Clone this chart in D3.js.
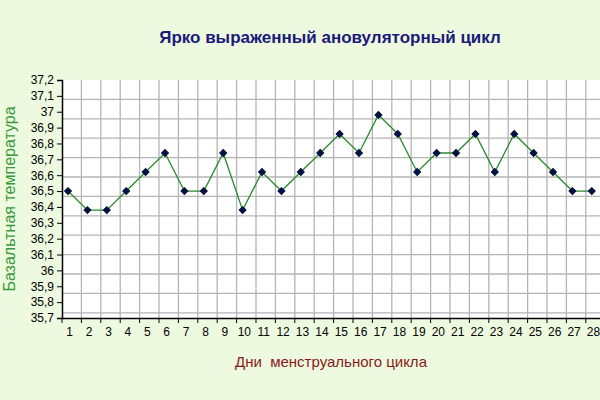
<!DOCTYPE html>
<html>
<head>
<meta charset="utf-8">
<script src="https://cdn.jsdelivr.net/npm/d3@7"></script>
<style>
  body { margin: 0; background: #eefadf; }
  text { font-family: Arial, "Liberation Sans", sans-serif; }
</style>
</head>
<body>
<div id="chart"></div>
<script>
const days = d3.range(1, 29);
const temps = [36.5, 36.38, 36.38, 36.5, 36.62, 36.74, 36.5, 36.5, 36.74, 36.38,
  36.62, 36.5, 36.62, 36.74, 36.86, 36.74, 36.98, 36.86, 36.62, 36.74,
  36.74, 36.86, 36.62, 36.86, 36.74, 36.62, 36.5, 36.5];
const yTicks = [35.7, 35.8, 35.9, 36, 36.1, 36.2, 36.3, 36.4, 36.5, 36.6, 36.7, 36.8, 36.9, 37, 37.1, 37.2];

const main = function() {
  const svg = d3.select("#chart").append("svg")
    .attr("width", 600).attr("height", 400);

  const top = 80, bottom = 318, left = 62;
  const x = d3.scaleBand().domain(days).range([left, left + 28 * 19.4]);
  const y = d3.scaleLinear().domain([35.7, 37.2]).range([bottom, top]);

  svg.append("rect").attr("x", left).attr("y", top)
    .attr("width", 600 - left).attr("height", bottom - top).attr("fill", "#fff");

  const g = svg.append("g").attr("stroke", "#b4b4b4").attr("stroke-width", 1.3);
  days.forEach(d => {
    g.append("line").attr("x1", x(d) + x.bandwidth()).attr("x2", x(d) + x.bandwidth())
      .attr("y1", top).attr("y2", bottom);
  });
  for (let yy = top + x.bandwidth(); yy < bottom; yy += x.bandwidth()) {
    g.append("line").attr("x1", left).attr("x2", 600).attr("y1", yy).attr("y2", yy);
  }

  const yAxis = svg.append("g").attr("transform", `translate(${left},0)`)
    .call(d3.axisLeft(y).tickValues(yTicks).tickSize(5)
      .tickFormat(d => String(+d.toFixed(1)).replace(".", ",")));
  const xAxis = svg.append("g").attr("transform", `translate(0,${bottom})`)
    .call(d3.axisBottom(x).tickSize(0).tickPadding(9));
  [yAxis, xAxis].forEach(a => {
    a.selectAll("text").attr("font-size", 12).attr("fill", "#000");
    a.select(".domain").attr("stroke", "#000").attr("stroke-width", 1.5);
  });
  yAxis.selectAll(".tick line").attr("stroke", "#000");
  days.forEach(d => {
    xAxis.append("line").attr("x1", x(d)).attr("x2", x(d)).attr("y1", 0).attr("y2", 5)
      .attr("stroke", "#000");
  });
  xAxis.selectAll(".tick text").attr("dx", -2);

  const px = d => x(d) + 6;
  svg.append("path").datum(temps)
    .attr("fill", "none").attr("stroke", "#2a8a2a").attr("stroke-width", 1.3)
    .attr("d", d3.line().x((t, i) => px(days[i])).y(t => y(t)));

  svg.selectAll(".m").data(temps).enter().append("path")
    .attr("transform", (t, i) => `translate(${px(days[i])},${y(t)}) rotate(45)`)
    .attr("d", d3.symbol(d3.symbolSquare, 24))
    .attr("fill", "#001040").attr("stroke", "#001040");

  svg.append("text").attr("x", 330).attr("y", 43).attr("text-anchor", "middle")
    .attr("font-size", 17).attr("font-weight", "bold").attr("fill", "#1a1a7a")
    .text("Ярко выраженный ановуляторный цикл");
  svg.append("text").attr("transform", "translate(15,199) rotate(-90)")
    .attr("text-anchor", "middle").attr("font-size", 16).attr("fill", "#3a9a3a")
    .text("Базальтная температура");
  svg.append("text").attr("x", 331).attr("y", 367).attr("text-anchor", "middle")
    .attr("font-size", 15).attr("fill", "#8a1a1a").attr("xml:space", "preserve")
    .text("Дни  менструального цикла");
};

window.onload = main;
</script>
</body>
</html>
